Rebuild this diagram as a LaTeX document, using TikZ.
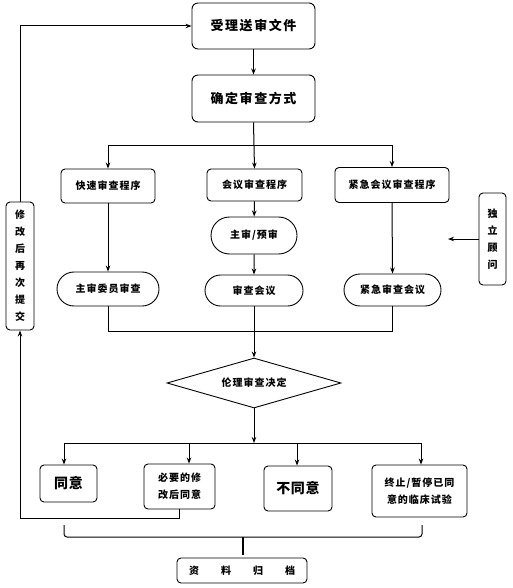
\documentclass[tikz,border=0pt]{standalone}
\usepackage{fontspec}
\setmainfont{Noto Sans CJK SC}
\usetikzlibrary{arrows.meta,shapes.geometric,shapes.misc}
\begin{document}
\begin{tikzpicture}[x=1pt,y=-1pt,
  box/.style={draw, rounded corners=6pt, line width=0.9pt, inner sep=0pt, align=center,
    font=\bfseries\fontsize{13}{15}\selectfont\addfontfeature{LetterSpace=12}},
  sbox/.style={box, rounded corners=4pt,
    font=\bfseries\fontsize{10}{17}\selectfont\addfontfeature{LetterSpace=10}},
  pill/.style={draw, rounded rectangle, line width=0.9pt, inner sep=0pt, align=center,
    font=\bfseries\fontsize{10}{14}\selectfont\addfontfeature{LetterSpace=10}},
  bigt/.style={font=\bfseries\fontsize{14}{16}\selectfont\addfontfeature{LetterSpace=5}},
  arr/.style={-{Stealth[length=6pt,width=4.5pt]}, line width=1pt},
  ln/.style={line width=1pt}]
\useasboundingbox (0,0) rectangle (512,588);

% main boxes
\node[box, minimum width=123pt, minimum height=46pt] (a) at (253.5,26) {受理送审文件};
\node[box, minimum width=123pt, minimum height=47pt] (b) at (253.5,98.5) {确定审查方式};

\node[sbox, minimum width=94pt, minimum height=34pt] (c1) at (108,186) {快速审查程序};
\node[sbox, minimum width=95pt, minimum height=32pt] (c2) at (254.5,185) {会议审查程序};
\node[sbox, minimum width=114pt, minimum height=35pt] (c3) at (392,185) {紧急会议审查程序};

\node[pill, minimum width=86pt, minimum height=37pt] (d) at (254,235.5) {主审/预审};
\node[pill, minimum width=102pt, minimum height=34pt] (e1) at (108,289) {主审委员审查};
\node[pill, minimum width=98pt, minimum height=31pt] (e2) at (254,290.5) {审查会议};
\node[pill, minimum width=97pt, minimum height=32pt] (e3) at (392.5,290) {紧急审查会议};

\node[sbox, minimum width=28pt, minimum height=128pt] (r) at (20,266) {修\\改\\后\\再\\次\\提\\交};
\node[sbox, minimum width=27pt, minimum height=92pt] (g) at (492.5,239) {独\\立\\顾\\问};

\node[draw, diamond, aspect=3.48, line width=0.9pt, inner sep=0pt, minimum width=174pt, minimum height=50pt,
  font=\bfseries\fontsize{10}{14}\selectfont\addfontfeature{LetterSpace=10}] (dia) at (254,383) {伦理审查决定};

\node[sbox, bigt, minimum width=57pt, minimum height=37pt] (f1) at (68.5,483.5) {同意};
\node[sbox, minimum width=71pt, minimum height=45pt] (f2) at (179.5,486.5) {必要的修\\改后同意};
\node[sbox, bigt, minimum width=68pt, minimum height=45pt] (f3) at (298,488.5) {不同意};
\node[sbox, minimum width=95pt, minimum height=52pt] (f4) at (419.5,491) {终止/暂停已同\\意的临床试验};

\node[sbox, minimum width=130pt, minimum height=25pt] (h) at (242,570.5) {资\hspace{22pt}料\hspace{22pt}归\hspace{22pt}档};

% junctions
\coordinate (j1) at (254,146);
\coordinate (j2) at (254,331);
\coordinate (j3) at (254,443);
\coordinate (ga) at (448,239);

% connectors
\draw[arr] (a) -- (b);
\draw[ln] (b.south) -- (j1);
\draw[arr] (j1) -| (c1.north);
\draw[arr] (j1) -- (c2.north);
\draw[arr] (j1) -| (c3.north);
\draw[arr] (c1) -- (e1);
\draw[arr] (c2) -- (d);
\draw[arr] (d) -- (e2);
\draw[arr] (c3.south) -- (e3.north);
\draw[arr] (g.west) -- (ga);
\draw[ln] (e1.south) |- (j2);
\draw[ln] (e3.south) |- (j2);
\draw[ln] (e2.south) -- (j2);
\draw[arr] (j2) -- (dia.north);
\draw[arr] (dia.south) -- (j3);
\draw[arr] (j3) -| ([xshift=-4.5pt]f1.north);
\draw[arr] (j3) -| ([xshift=9.5pt]f2.north);
\draw[arr] (j3) -| ([xshift=-1pt]f3.north);
\draw[arr] (j3) -| ([xshift=1.5pt]f4.north);
\draw[arr] (f2.south) -- ++(0,9) -| (r.south);
\draw[arr] (r.north) |- (a.west);

% brace
\draw[ln, rounded corners=3pt] (64,525) -- (64,537) -- (422,537) -- (422,525);
\draw[line width=1.4pt] (243,537) -- (243,555);
\end{tikzpicture}
\end{document}
